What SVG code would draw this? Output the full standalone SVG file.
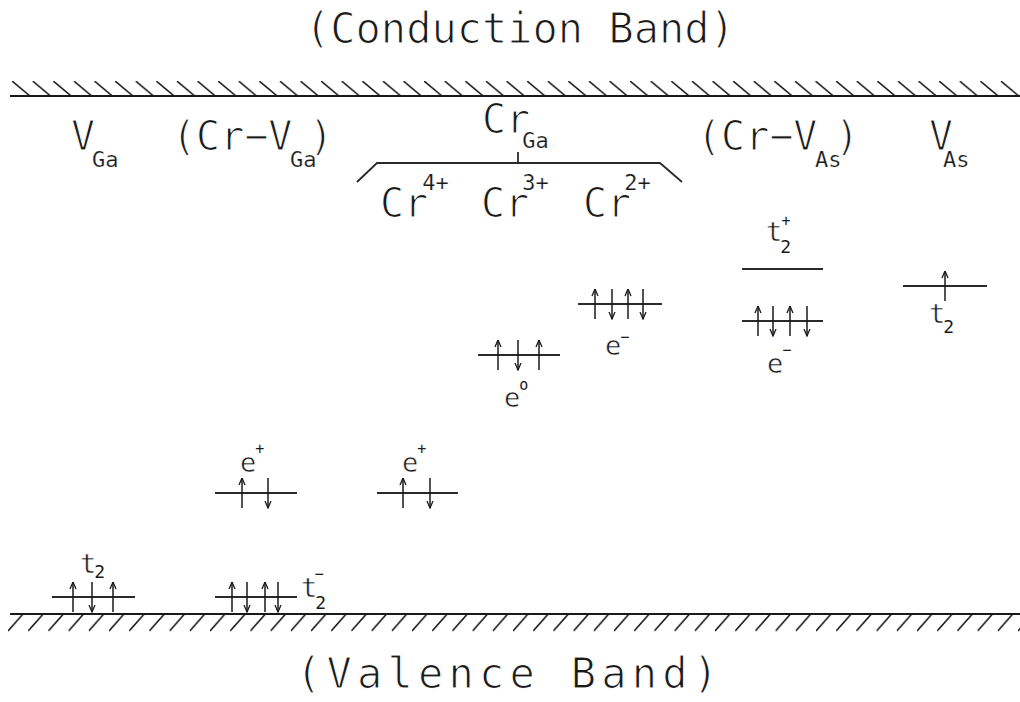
<svg xmlns="http://www.w3.org/2000/svg" width="1020" height="702" viewBox="0 0 1020 702">
<style>
.t{font-family:"DejaVu Sans Mono","Liberation Mono",monospace;fill:#1a1a1a}
.thin{stroke:#ffffff;stroke-width:1.1px}
.lt{stroke:#ffffff;stroke-width:0.5px}
.big{font-size:40px}
.title{font-size:42px}
.sub{font-size:22px;stroke-width:0.2px}
.lab{font-size:27px}
.s2{font-size:18px;stroke-width:0px}
.sup{font-size:15px;stroke-width:0px}
.lvl{stroke:#2a2a2a;stroke-width:1.8;fill:none}
.spin{stroke:#1a1a1a;stroke-width:1.5;fill:none;marker-end:url(#ah)}
.band{stroke:#1a1a1a;stroke-width:2;fill:none}
</style>
<defs>
<marker id="ah" viewBox="0 0 8 8" refX="7.5" refY="4" markerWidth="8" markerHeight="8" markerUnits="userSpaceOnUse" orient="auto">
<path d="M0.5,1 L7.5,4 L0.5,7" fill="none" stroke="#1a1a1a" stroke-width="1.3"/>
</marker>
<pattern id="hatchTop" x="12" y="81" width="20.6" height="15" patternUnits="userSpaceOnUse">
<line x1="0" y1="0" x2="18" y2="15" stroke="#1a1a1a" stroke-width="1.6"/>
</pattern>
<pattern id="hatchBot" x="8" y="614" width="20.2" height="20" patternUnits="userSpaceOnUse">
<line x1="15" y1="0" x2="0" y2="17" stroke="#1a1a1a" stroke-width="1.6"/>
</pattern>
</defs>
<rect width="1020" height="702" fill="#ffffff"/>

<g id="conduction-band">
<rect x="10" y="81" width="1010" height="15" fill="url(#hatchTop)"/>
<line class="band" x1="10" y1="96" x2="1020" y2="96"/>
<text class="t title thin" x="305" y="43">(Conduction Band)</text>
</g>

<g id="valence-band">
<rect x="8" y="614" width="1012" height="18" fill="url(#hatchBot)"/>
<line class="band" x1="10" y1="614" x2="1020" y2="614"/>
<text class="t title thin" x="296" y="688" font-size="44" textLength="422" lengthAdjust="spacing">(Valence Band)</text>
</g>

<g id="label-VGa">
<text class="t big thin" x="71" y="150">V<tspan class="sub" dx="-3" dy="17">Ga</tspan></text>
</g>
<g id="label-CrVGa">
<text class="t big thin" x="172" y="150">(Cr−V<tspan class="sub" dx="-2.5" dy="17">Ga</tspan><tspan dx="-7.5" dy="-17">)</tspan></text>
</g>
<g id="label-CrGa">
<text class="t big thin" x="482" y="133">Cr<tspan class="sub" dx="-8" dy="15">Ga</tspan></text>
</g>
<g id="label-Cr4">
<text class="t big thin" x="380" y="217">Cr<tspan class="sub" dx="-6" dy="-27">4+</tspan></text>
</g>
<g id="label-Cr3">
<text class="t big thin" x="481" y="217">Cr<tspan class="sub" dx="-7" dy="-27">3+</tspan></text>
</g>
<g id="label-Cr2">
<text class="t big thin" x="583" y="217">Cr<tspan class="sub" dx="-7" dy="-27">2+</tspan></text>
</g>
<g id="label-CrVAs">
<text class="t big thin" x="697" y="150">(Cr−V<tspan class="sub" dx="-2.5" dy="17">As</tspan><tspan dx="-6.5" dy="-17">)</tspan></text>
</g>
<g id="label-VAs">
<text class="t big thin" x="929" y="150">V<tspan class="sub" dx="-10" dy="17">As</tspan></text>
</g>

<g id="connectors">
<path class="lvl" d="M357,182 L377,163 L660,163 L682,182"/>
<path class="lvl" d="M518,152 L518,163"/>
</g>

<g id="level-VGa-t2">
<line class="lvl" x1="52" y1="597" x2="135" y2="597"/>
<path class="spin" d="M73,612 V582"/>
<path class="spin" d="M92,582 V612"/>
<path class="spin" d="M113,612 V582"/>
<text class="t lab lt" x="80" y="573">t<tspan class="s2" dx="-2" dy="5">2</tspan></text>
</g>

<g id="level-CrVGa-t2">
<line class="lvl" x1="215" y1="597" x2="297" y2="597"/>
<path class="spin" d="M232,612 V582"/>
<path class="spin" d="M247,582 V612"/>
<path class="spin" d="M265,612 V582"/>
<path class="spin" d="M278,582 V612"/>
<text class="t lab lt" x="301" y="597">t<tspan class="s2" dx="-2" dy="12">2</tspan><tspan class="sup" dx="-11.5" dy="-30">−</tspan></text>
</g>

<g id="level-CrVGa-e">
<line class="lvl" x1="215" y1="493" x2="297" y2="493"/>
<path class="spin" d="M242,508 V478"/>
<path class="spin" d="M268,478 V508"/>
<text class="t lab lt" x="240" y="472">e<tspan class="sup" dx="-1" dy="-18">+</tspan></text>
</g>

<g id="level-Cr4-e">
<line class="lvl" x1="377" y1="493" x2="458" y2="493"/>
<path class="spin" d="M403,508 V478"/>
<path class="spin" d="M430,478 V508"/>
<text class="t lab lt" x="402" y="472">e<tspan class="sup" dx="-1" dy="-18">+</tspan></text>
</g>

<g id="level-Cr3-e">
<line class="lvl" x1="478" y1="355" x2="560" y2="355"/>
<path class="spin" d="M498,370 V340"/>
<path class="spin" d="M518,340 V370"/>
<path class="spin" d="M539,370 V340"/>
<text class="t lab lt" x="504" y="407">e<tspan class="sup" dx="-1" dy="-17">o</tspan></text>
</g>

<g id="level-Cr2-e">
<line class="lvl" x1="578" y1="304" x2="662" y2="304"/>
<path class="spin" d="M595,319 V289"/>
<path class="spin" d="M612,289 V319"/>
<path class="spin" d="M628,319 V289"/>
<path class="spin" d="M643,289 V319"/>
<text class="t lab lt" x="605" y="355">e<tspan class="sup" dx="-1" dy="-13">−</tspan></text>
</g>

<g id="level-CrVAs-t2">
<line class="lvl" x1="742" y1="269" x2="823" y2="269"/>
<text class="t lab lt" x="766" y="241">t<tspan class="s2" dx="-2" dy="12">2</tspan><tspan class="sup" dx="-9.5" dy="-27">+</tspan></text>
</g>

<g id="level-CrVAs-e">
<line class="lvl" x1="742" y1="321" x2="823" y2="321"/>
<path class="spin" d="M758,336 V306"/>
<path class="spin" d="M773,306 V336"/>
<path class="spin" d="M790,336 V306"/>
<path class="spin" d="M807,306 V336"/>
<text class="t lab lt" x="767" y="373">e<tspan class="sup" dx="-1" dy="-18">−</tspan></text>
</g>

<g id="level-VAs-t2">
<line class="lvl" x1="903" y1="286" x2="987" y2="286"/>
<path class="spin" d="M945,301 V271"/>
<text class="t lab lt" x="929" y="323">t<tspan class="s2" dx="-2" dy="10">2</tspan></text>
</g>
</svg>
